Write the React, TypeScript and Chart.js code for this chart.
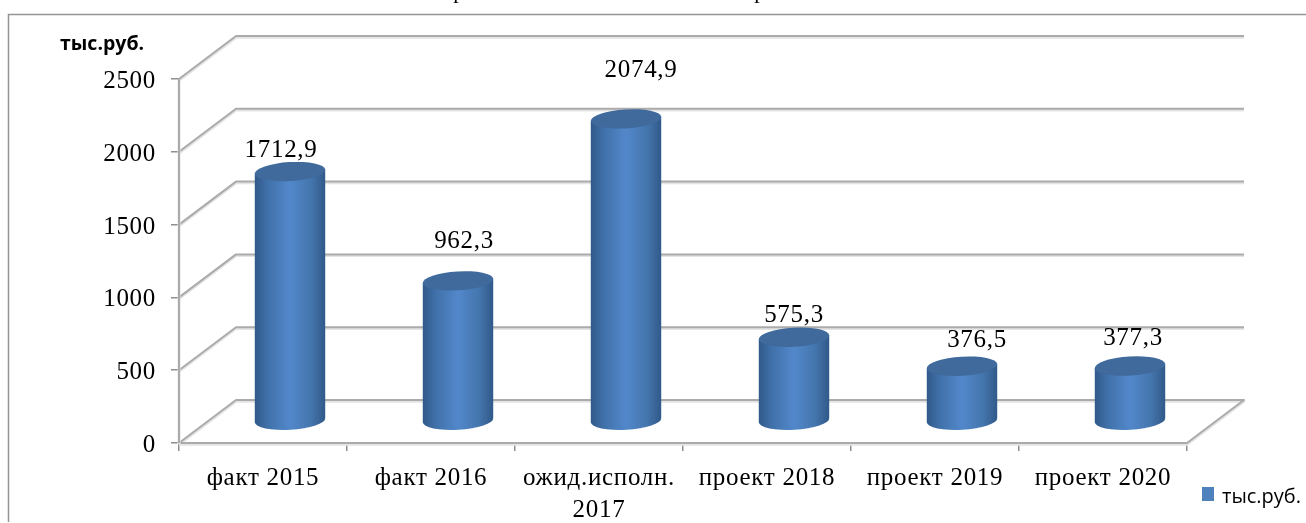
import React, { useEffect, useRef } from "react";
import { Chart, registerables, BarController, BarElement } from "chart.js";

const categories = ["факт 2015", "факт 2016", ["ожид.исполн.", "2017"], "проект 2018", "проект 2019", "проект 2020"];
const seriesName = "тыс.руб.";
const values = [1712.9, 962.3, 2074.9, 575.3, 376.5, 377.3];
const valueLabels = ["1712,9", "962,3", "2074,9", "575,3", "376,5", "377,3"];
const yTicks = [0, 500, 1000, 1500, 2000, 2500];
const labelNudges = [[-9, -21], [6, -39], [15, -48], [0, -22], [15, -26], [3, -28]];

const SERIF = '"Liberation Serif", serif';
const SANS = '"Open Sans", "Noto Sans", sans-serif';
const SPACING = "0.7px";
const DEPTH_X = 57;
const DEPTH_Y = -43;
const BAR_DX = 27;
const BAR_DY = -22;

class CylinderBar extends BarElement {
  static id = "cylinderBar";
  static defaults = BarElement.defaults;
  static defaultRoutes = BarElement.defaultRoutes;
  draw(ctx: CanvasRenderingContext2D) {
    const { x, y, base, width } = this.getProps(["x", "y", "base", "width"], true) as any;
    const cx = x + BAR_DX;
    const top = y + BAR_DY;
    const bottom = base + BAR_DY;
    const rx = width / 2;
    const ry = 9.5;
    const tilt = -0.06;
    const dx = rx * Math.cos(tilt);
    const dy = rx * Math.sin(tilt);
    const g = ctx.createLinearGradient(cx - rx, 0, cx + rx, 0);
    g.addColorStop(0, "#31598a");
    g.addColorStop(0.18, "#4070a9");
    g.addColorStop(0.5, "#5288cb");
    g.addColorStop(0.8, "#4475ad");
    g.addColorStop(1, "#31598a");
    ctx.save();
    ctx.fillStyle = g;
    ctx.beginPath();
    ctx.moveTo(cx - dx, top - dy);
    ctx.lineTo(cx + dx, top + dy);
    ctx.lineTo(cx + dx, bottom + dy);
    ctx.ellipse(cx, bottom, rx, ry, tilt, 0, Math.PI, false);
    ctx.closePath();
    ctx.fill();
    ctx.fillStyle = "#3f6a9b";
    ctx.beginPath();
    ctx.ellipse(cx, top, rx, ry, tilt, 0, Math.PI * 2);
    ctx.fill();
    ctx.restore();
  }
}

class CylinderController extends BarController {
  static id = "cylinder";
  static defaults = { ...BarController.defaults, dataElementType: "cylinderBar" };
  static overrides = BarController.overrides;
}

function thickLine(ctx: CanvasRenderingContext2D, pts: number[][]) {
  const path = (off: number) => {
    ctx.beginPath();
    pts.forEach((p, i) => (i ? ctx.lineTo(p[0], p[1] + off) : ctx.moveTo(p[0], p[1] + off)));
  };
  ctx.lineJoin = "round";
  ctx.strokeStyle = "#e4e4e4";
  ctx.lineWidth = 3;
  path(1.2);
  ctx.stroke();
  ctx.strokeStyle = "#ababab";
  ctx.lineWidth = 2;
  path(0);
  ctx.stroke();
}

const setSpacing = (chart: any) => {
  chart.ctx.letterSpacing = SPACING;
};

const frame3d = {
  id: "frame3d",
  beforeUpdate: setSpacing,
  beforeLayout: setSpacing,
  beforeDraw(chart: any) {
    setSpacing(chart);
    const { ctx, width, height } = chart;
    chart.scales.y.getLabelItems().forEach((item: any) => {
      if (!item.nudged) {
        item.textOffset += 2.5;
        item.nudged = true;
      }
    });
    ctx.save();
    ctx.fillStyle = "#fff";
    ctx.fillRect(0, 0, width, height);
    ctx.strokeStyle = "#959595";
    ctx.lineWidth = 1.5;
    ctx.beginPath();
    ctx.moveTo(width, 14.5);
    ctx.lineTo(8.5, 14.5);
    ctx.lineTo(8.5, height - 1);
    ctx.stroke();
    ctx.fillStyle = "#000";
    ctx.font = `22px ${SERIF}`;
    ctx.textAlign = "center";
    ctx.textBaseline = "alphabetic";
    ctx.fillText("р", 459, -2);
    ctx.fillText("р", 760, -2);
    ctx.restore();
  },
  beforeDatasetsDraw(chart: any) {
    const { ctx, chartArea, scales } = chart;
    const { left, right } = chartArea;
    ctx.save();
    yTicks.forEach((v) => {
      if (v === 0) return;
      const y = scales.y.getPixelForValue(v);
      thickLine(ctx, [[left, y], [left + DEPTH_X, y + DEPTH_Y], [right + DEPTH_X, y + DEPTH_Y]]);
    });
    const y0 = scales.y.getPixelForValue(0);
    thickLine(ctx, [[left, y0], [left + DEPTH_X, y0 + DEPTH_Y], [right + DEPTH_X, y0 + DEPTH_Y], [right, y0], [left, y0]]);
    thickLine(ctx, [[left, scales.y.getPixelForValue(2500)], [left, y0]]);
    ctx.restore();
  },
  afterDatasetsDraw(chart: any) {
    const { ctx } = chart;
    const meta = chart.getDatasetMeta(0);
    ctx.save();
    ctx.fillStyle = "#000";
    ctx.font = `25px ${SERIF}`;
    ctx.textAlign = "center";
    ctx.textBaseline = "middle";
    meta.data.forEach((el: any, i: number) => {
      const [nx, ny] = labelNudges[i];
      ctx.fillText(valueLabels[i], el.x + BAR_DX + nx, el.y + BAR_DY + ny);
    });
    ctx.letterSpacing = "0px";
    ctx.font = `bold 19.5px ${SANS}`;
    ctx.textAlign = "left";
    ctx.fillText(seriesName, 60, 44);
    ctx.fillStyle = chart.data.datasets[0].backgroundColor;
    ctx.fillRect(1202, 487, 12, 14);
    ctx.fillStyle = "#000";
    ctx.font = `20px ${SANS}`;
    ctx.fillText(chart.data.datasets[0].label, 1222, 497);
    ctx.restore();
  },
};

Chart.register(...registerables, CylinderBar, CylinderController);

export default function App() {
  const ref = useRef<HTMLCanvasElement>(null);
  useEffect(() => {
    const chart = new Chart(ref.current!, {
      type: "cylinder" as any,
      data: {
        labels: categories as any,
        datasets: [
          {
            label: seriesName,
            data: values,
            backgroundColor: "#4f81bd",
            barPercentage: 0.42,
            categoryPercentage: 1,
          },
        ],
      },
      plugins: [frame3d],
      options: {
        responsive: false,
        animation: false,
        layout: { padding: { top: 79, right: 119, left: 0, bottom: 0 } },
        plugins: { legend: { display: false }, tooltip: { enabled: false }, title: { display: false } },
        scales: {
          x: {
            type: "category",
            offset: true,
            grid: { offset: true, drawOnChartArea: false, drawTicks: true, tickLength: 8, color: "#8f8f8f", lineWidth: 1.5 },
            border: { display: false },
            ticks: {
              color: "#000",
              font: { family: SERIF, size: 25, lineHeight: 1.27 },
              padding: 12,
              maxRotation: 0,
              autoSkip: false,
            },
            afterFit(s: any) { s.height = 80; },
          },
          y: {
            min: 0,
            max: 2500,
            afterBuildTicks(s: any) { s.ticks = yTicks.map((value) => ({ value })); },
            grid: { drawOnChartArea: false, drawTicks: true, tickLength: 8, color: "#8f8f8f", lineWidth: 1.5 },
            border: { display: false },
            ticks: {
              color: "#000",
              font: { family: SERIF, size: 25 },
              padding: 15,
              callback: (v: any) => String(v),
            },
            afterFit(s: any) { s.width = 179; },
          },
        },
      },
    } as any);
    return () => chart.destroy();
  }, []);
  return (
    <div style={{ position: "absolute", left: 0, top: 0, width: 1306, height: 523 }}>
      <canvas ref={ref} width={1306} height={523} style={{ display: "block", filter: "blur(0.35px)" }} />
    </div>
  );
}
